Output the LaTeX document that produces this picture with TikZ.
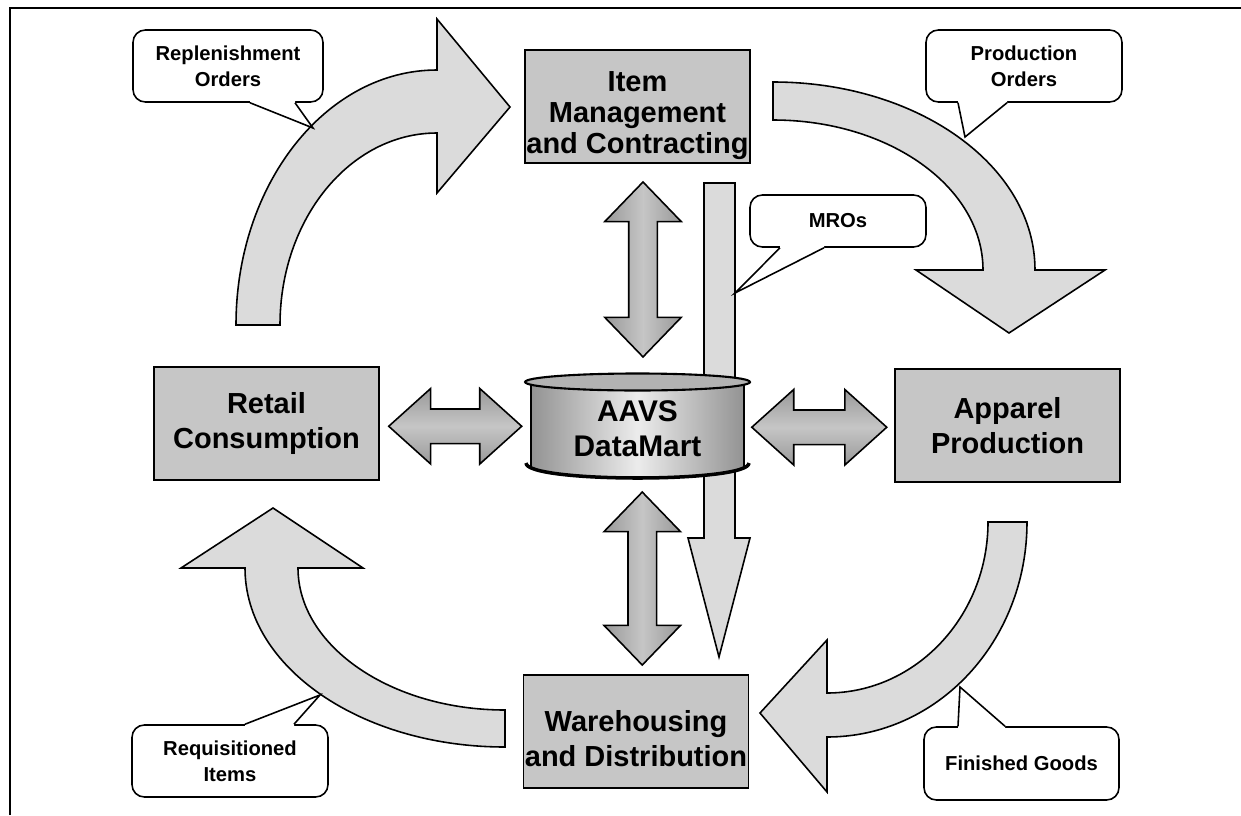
\documentclass[tikz,border=0pt]{standalone}
\usepackage{fontspec}
\setmainfont{Liberation Sans}
\usetikzlibrary{shapes.arrows,calc}
\tikzset{
	unit/.style={draw,line width=0.9pt,fill=gray!45,minimum width=4.5cm,minimum height=2.26cm,inner sep=0pt,align=center,font=\fontsize{16.5}{20}\selectfont\bfseries},
	note/.style={draw,line width=0.9pt,fill=white,rounded corners=7pt,minimum height=1.44cm,inner sep=0pt,align=center,font=\fontsize{11.5}{14.8}\selectfont\bfseries},
	flow/.style={draw,line width=0.9pt,fill=gray!28},
	link/.style={double arrow,draw,line width=0.9pt},
	hlink/.style={link,inner sep=0.33cm,double arrow head extend=0.41cm,double arrow tip angle=84,top color=gray!80,bottom color=gray!80,middle color=gray!45},
	vlink/.style={link,shape border rotate=90,inner sep=0.27cm,double arrow head extend=0.48cm,double arrow tip angle=88,left color=gray!80,right color=gray!80,middle color=gray!45},
}
\begin{document}
\begin{tikzpicture}[x=0.02cm,y=-0.02cm]
	\useasboundingbox (0,0) rectangle (1241,815);
	\draw[line width=1pt] (10,815) -- (10,8) -- (1241,8);
	% big curved flows
	\draw[flow] (236,325) .. controls (236,184) and (326,70) .. (437,70) -- (437,19) -- (510,107) -- (437,193) -- (437,133) .. controls (350,133) and (280,219) .. (280,325) -- cycle;
	\draw[flow] (773,82) .. controls (918,82) and (1035,166) .. (1035,270) -- (1105,270) -- (1009,333) -- (916,270) -- (983,270) .. controls (983,187) and (889,120) .. (773,120) -- cycle;
	\draw[flow] (1027,522) .. controls (1027,641) and (938,737) .. (827,737) -- (827,792) -- (760,713) -- (827,640) -- (827,693) .. controls (916,693) and (988,616) .. (988,522) -- cycle;
	\draw[flow] (505,747) .. controls (361,747) and (245,667) .. (245,568) -- (181,568) -- (273,508) -- (363,568) -- (298,568) .. controls (298,646) and (391,710) .. (505,710) -- cycle;
	\draw[flow] (704,183) -- (735,183) -- (735,538) -- (750,538) -- (719,657) -- (688,538) -- (704,538) -- cycle;
	% data mart
	\shade[draw,line width=0.9pt,left color=gray!85,right color=gray!85,middle color=gray!15] (531,382) -- (531,466) .. controls (531,482) and (744,482) .. (744,466) -- (744,382) -- cycle;
	\draw[line width=2pt] (526,463) .. controls (526,483) and (749,483) .. (749,463);
	\draw[line width=1.2pt,fill=gray!60] (637.5,382) ellipse [x radius=2.25cm,y radius=0.17cm];
	\node[minimum width=4.5cm,minimum height=2.14cm,inner sep=0pt,align=center,font=\fontsize{17}{20}\selectfont\bfseries] (mart) at (637.5,429) {AAVS\\DataMart};
	\node[unit,font=\fontsize{16.5}{17.6}\selectfont\bfseries,text height=57pt] (item) at (637.5,106.5) {Item\\Management\\and Contracting};
	\node[unit] (retail) at (266.5,423.5) {Retail\\Consumption};
	\node[unit] (apparel) at (1007.5,425.5) {Apparel\\Production};
	\node[unit,text height=40pt] (ware) at (636,731.5) {Warehousing\\and Distribution};
	\node[hlink,minimum height=2.66cm] (retail-mart) at ($(retail.east)!0.5!(mart.west)+(3,0)$) {};
	\node[hlink,minimum height=2.7cm] (mart-apparel) at ($(mart.east)!0.5!(apparel.west)-(3,0)$) {};
	\node[vlink,minimum height=3.5cm] (item-mart) at ($(item.south)!0.5!(mart.north)+(5.5,0)$) {};
	\node[vlink,minimum height=3.46cm] (mart-ware) at ($(mart.south)!0.5!(ware.north)+(5.5,0)$) {};
	% callouts
	\node[note,minimum width=3.8cm] (rep) at (228,66) {Replenishment\\Orders};
	\coordinate (repTip) at (313,128);
	\fill[white] ($(rep.south)+(22,-3)$) -- ($(rep.south)+(22,0)$) -- (repTip) -- ($(rep.south)+(67,0)$) -- ($(rep.south)+(67,-3)$) -- cycle;
	\draw[line width=0.9pt] ($(rep.south)+(22,0)$) -- (repTip) -- ($(rep.south)+(67,0)$);
	\node[note,minimum width=3.92cm] (prod) at (1024,66) {Production\\Orders};
	\coordinate (prodTip) at (965,137);
	\fill[white] ($(prod.south)+(-66,-3)$) -- ($(prod.south)+(-66,0)$) -- (prodTip) -- ($(prod.south)+(-17,0)$) -- ($(prod.south)+(-17,-3)$) -- cycle;
	\draw[line width=0.9pt] ($(prod.south)+(-66,0)$) -- (prodTip) -- ($(prod.south)+(-17,0)$);
	\node[note,minimum width=3.52cm,minimum height=1.04cm] (mro) at (838,221) {MROs};
	\coordinate (mroTip) at (735,293);
	\fill[white] ($(mro.south)+(-58,-3)$) -- ($(mro.south)+(-58,0)$) -- (mroTip) -- ($(mro.south)+(-14,0)$) -- ($(mro.south)+(-14,-3)$) -- cycle;
	\draw[line width=0.9pt] ($(mro.south)+(-58,0)$) -- (mroTip) -- ($(mro.south)+(-14,0)$);
	\node[note,minimum width=3.92cm] (req) at (230,761) {Requisitioned\\Items};
	\coordinate (reqTip) at (320,695);
	\fill[white] ($(req.north)+(15,3)$) -- ($(req.north)+(15,0)$) -- (reqTip) -- ($(req.north)+(64,0)$) -- ($(req.north)+(64,3)$) -- cycle;
	\draw[line width=0.9pt] ($(req.north)+(15,0)$) -- (reqTip) -- ($(req.north)+(64,0)$);
	\node[note,minimum width=3.9cm,minimum height=1.46cm] (fin) at (1021.5,763.5) {Finished Goods};
	\coordinate (finTip) at (960,687);
	\fill[white] ($(fin.north)+(-63.5,3)$) -- ($(fin.north)+(-63.5,0)$) -- (finTip) -- ($(fin.north)+(-16.5,0)$) -- ($(fin.north)+(-16.5,3)$) -- cycle;
	\draw[line width=0.9pt] ($(fin.north)+(-63.5,0)$) -- (finTip) -- ($(fin.north)+(-16.5,0)$);
\end{tikzpicture}
\end{document}
